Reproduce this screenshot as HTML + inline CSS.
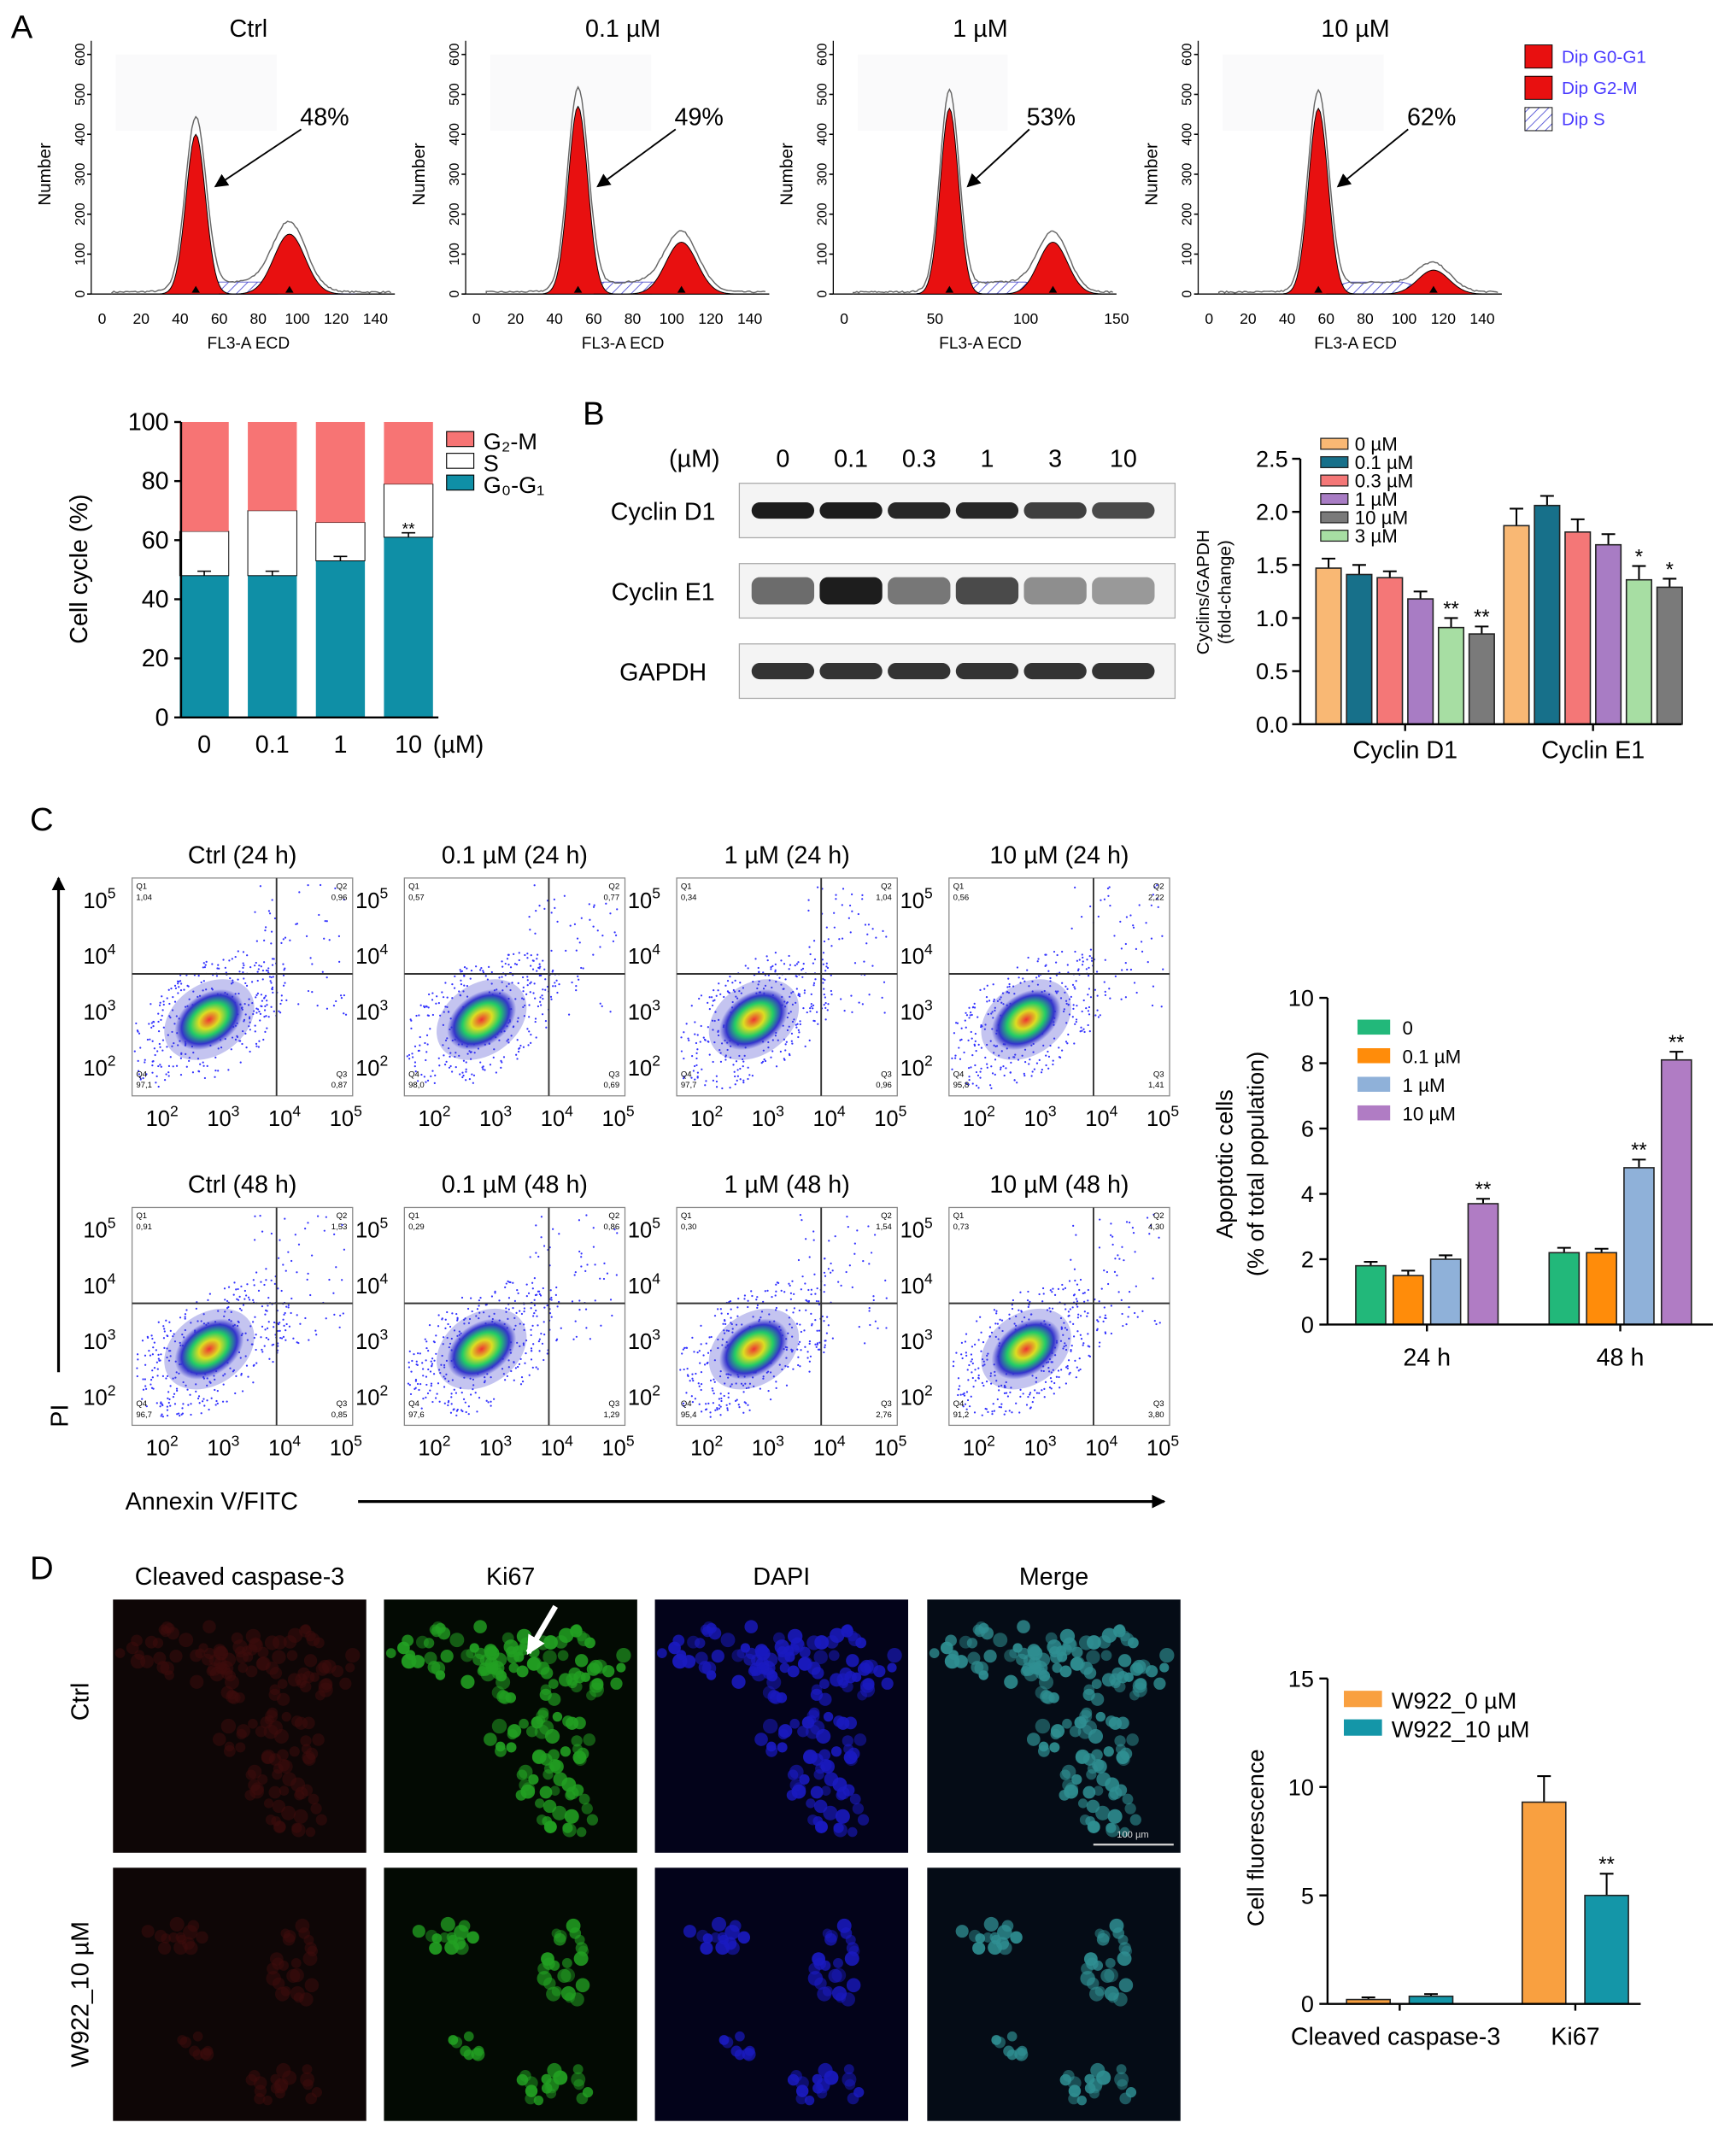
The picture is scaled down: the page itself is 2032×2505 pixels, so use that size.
<!DOCTYPE html>
<html><head><meta charset="utf-8">
<style>
html,body{margin:0;padding:0;background:#fff;}
svg{display:block;font-family:"Liberation Sans",Arial,sans-serif;}
</style></head>
<body>
<svg id="fig" width="2032" height="2505" viewBox="0 0 1275 1572" preserveAspectRatio="none" xmlns="http://www.w3.org/2000/svg">
<defs>
<pattern id="hatch" width="5" height="5" patternUnits="userSpaceOnUse" patternTransform="rotate(45)"><rect width="5" height="5" fill="#fff"/><line x1="0" y1="0" x2="0" y2="5" stroke="#5a5ad8" stroke-width="1.2"/></pattern>
<radialGradient id="blob"><stop offset="0" stop-color="#e33"/><stop offset="0.3" stop-color="#dd2"/><stop offset="0.55" stop-color="#2c6"/><stop offset="0.8" stop-color="#33c"/><stop offset="1" stop-color="#33c" stop-opacity="0"/></radialGradient>
<marker id="arr" markerWidth="10" markerHeight="10" refX="9" refY="5" orient="auto" markerUnits="userSpaceOnUse"><path d="M0,0 L10,5 L0,10 z" fill="#000"/></marker>
<marker id="arrw" markerWidth="14" markerHeight="14" refX="12" refY="7" orient="auto" markerUnits="userSpaceOnUse"><path d="M0,0 L14,7 L0,14 z" fill="#fff"/></marker>
</defs>
<g id="root"></g>
</svg>
<script>
// ---------- data ----------
const histTitles = ["Ctrl","0.1 µM","1 µM","10 µM"];
const histPct = ["48%","49%","53%","62%"];
const histG1Peak = [400,470,465,465];
const histG2Peak = [150,130,130,60];
const histG1Pos = [48,52,58,56];
const histG2Pos = [96,105,115,115];
const stackCats = ["0","0.1","1","10"];
const stackG1 = [48,48,53,61];
const stackS = [15,22,13,18];
const stackG2 = [37,30,34,21];
const stackTicks = [0,20,40,60,80,100];
const blotConc = ["0","0.1","0.3","1","3","10"];
const blotRows = ["Cyclin D1","Cyclin E1","GAPDH"];
const cycGroups = ["Cyclin D1","Cyclin E1"];
const cycLegend = ["0 µM","0.1 µM","0.3 µM","1 µM","10 µM","3 µM"];
const cycD1 = [1.47,1.41,1.38,1.18,0.91,0.85];
const cycE1 = [1.87,2.06,1.81,1.69,1.36,1.29];
const cycErrD1 = [0.09,0.09,0.06,0.07,0.09,0.07];
const cycErrE1 = [0.16,0.09,0.12,0.10,0.13,0.08];
const cycStarsD1 = ["","","","","**","**"];
const cycStarsE1 = ["","","","","*","*"];
const cycTicks = [0,0.5,1.0,1.5,2.0,2.5];
const apoGroups = ["24 h","48 h"];
const apoLegend = ["0","0.1 µM","1 µM","10 µM"];
const apo24 = [1.8,1.5,2.0,3.7];
const apo48 = [2.2,2.2,4.8,8.1];
const apoErr24 = [0.12,0.15,0.12,0.15];
const apoErr48 = [0.15,0.12,0.25,0.25];
const apoStars24 = ["","","","**"];
const apoStars48 = ["","","**","**"];
const apoTicks = [0,2,4,6,8,10];
const scatTitles = ["Ctrl (24 h)","0.1 µM (24 h)","1 µM (24 h)","10 µM (24 h)","Ctrl (48 h)","0.1 µM (48 h)","1 µM (48 h)","10 µM (48 h)"];
const scatQ1 = ["1,04","0,57","0,34","0,56","0,91","0,29","0,30","0,73"];
const scatQ2 = ["0,96","0,77","1,04","2,22","1,53","0,86","1,54","4,30"];
const scatQ3 = ["0,87","0,69","0,96","1,41","0,85","1,29","2,76","3,80"];
const scatQ4 = ["97,1","98,0","97,7","95,8","96,7","97,6","95,4","91,2"];
const fluoGroups = ["Cleaved caspase-3","Ki67"];
const fluoLegend = ["W922_0 µM","W922_10 µM"];
const fluo0 = [0.2,9.3];
const fluo10 = [0.35,5.0];
const fluoErr0 = [0.1,1.2];
const fluoErr10 = [0.1,1.0];
const fluoStars10 = ["","**"];
const fluoTicks = [0,5,10,15];

const NS="http://www.w3.org/2000/svg";
const root=document.getElementById('root');
function mk(tag,attrs,parent,text){const e=document.createElementNS(NS,tag);for(const k in attrs)e.setAttribute(k,attrs[k]);if(text!==undefined)e.textContent=text;(parent||root).appendChild(e);return e;}
function txt(x,y,s,size,anchor,parent,extra){const a=Object.assign({x:x,y:y,'font-size':size,'text-anchor':anchor||'middle',fill:'#000'},extra||{});return mk('text',a,parent,s);}
let seed=7;function rnd(){seed=(seed*16807)%2147483647;return seed/2147483647;}

// panel letters
["A","B","C","D"].forEach((L,i)=>{const p=[[8,28],[428,312],[22,610],[22,1160]][i];
 const t=txt(p[0],p[1],L,24,'start');
 
 });

// ---------- A histograms ----------
const histX=[75,350,620,888], histW=[215,215,200,215];
histTitles.forEach((title,i)=>{
 const g=mk('g',{});
 
 
 const x0=histX[i],w=histW[i],yb=216,h=176;
 const xs=v=>x0+v/150*w, ys=v=>yb-v/600*h;
 txt(x0+w/2,27,title,18,'middle',g);
 mk('rect',{x:x0+10,y:40,width:w*0.55,height:56,fill:'#fafafb'},g);
 mk('line',{x1:x0-8,y1:yb,x2:x0+w,y2:yb,stroke:'#000','stroke-width':0.8},g);
 mk('line',{x1:x0-8,y1:yb,x2:x0-8,y2:30,stroke:'#000','stroke-width':0.8},g);
 [0,100,200,300,400,500,600].forEach(t=>{const ty=ys(t);mk('line',{x1:x0-11,y1:ty,x2:x0-8,y2:ty,stroke:'#000'},g);
  const tt=txt(x0-16,ty,String(t),10,'middle',g);tt.setAttribute('transform','rotate(-90 '+(x0-16)+' '+ty+')');tt.setAttribute('dy','3');});
 const xt=i==2?[0,50,100,150]:[0,20,40,60,80,100,120,140];
 xt.forEach(t=>{txt(xs(t),238,String(t),11,'middle',g);});
 txt(x0+w/2,256,'FL3-A ECD',12,'middle',g);
 const yl=txt(x0-38,yb-88,'Number',13,'middle',g);yl.setAttribute('transform','rotate(-90 '+(x0-38)+' '+(yb-88)+')');
 const gp=(v,c,s,a)=>a*Math.exp(-((v-c)*(v-c))/(2*s*s));
 let p1='M'+xs(20)+','+yb,p2='M'+xs(60)+','+yb,pS='M'+xs(40)+','+yb,pe='M'+xs(5)+','+yb;
 for(let v=20;v<=90;v+=1)p1+=' L'+xs(v)+','+ys(gp(v,histG1Pos[i],5,histG1Peak[i]));
 for(let v=60;v<=145;v+=1)p2+=' L'+xs(v)+','+ys(gp(v,histG2Pos[i],8,histG2Peak[i]));
 for(let v=40;v<=130;v+=1)pS+=' L'+xs(v)+','+ys(Math.min(30,40*Math.exp(-Math.pow((v-(histG1Pos[i]+histG2Pos[i])/2)/25,2))));
 for(let v=5;v<=148;v+=1)pe+=' L'+xs(v)+','+ys(gp(v,histG1Pos[i],5.3,histG1Peak[i]*1.07)+gp(v,histG2Pos[i],8.5,histG2Peak[i]*1.1)+25*Math.exp(-Math.pow((v-(histG1Pos[i]+histG2Pos[i])/2)/28,2))+3+4*rnd());
 mk('path',{d:pS+' Z',fill:'url(#hatch)',stroke:'#55c','stroke-width':0.6},g);
 mk('path',{d:p1+' Z',fill:'#e81010',stroke:'#000','stroke-width':0.6},g);
 mk('path',{d:p2+' Z',fill:'#e81010',stroke:'#000','stroke-width':0.6},g);
 mk('path',{d:pe,fill:'none',stroke:'#666','stroke-width':0.9},g);
 [histG1Pos[i],histG2Pos[i]].forEach(v=>mk('path',{d:'M'+(xs(v)-3)+','+(yb-1)+' l3,-5 l3,5z',fill:'#000'},g));
 txt(x0+w*0.76,92,histPct[i],18,'middle',g);
 mk('line',{x1:x0+w*0.68,y1:95,x2:xs(histG1Pos[i]+10),y2:137,stroke:'#000','stroke-width':1.2,'marker-end':'url(#arr)'},g);
});
const hl=mk('g',{});


[["Dip G0-G1","#e81010"],["Dip G2-M","#e81010"],["Dip S","url(#hatch)"]].forEach((d,k)=>{
 mk('rect',{x:1120,y:33+k*23,width:20,height:17,fill:d[1],stroke:'#000','stroke-width':0.6},hl);
 txt(1147,46+k*23,d[0],13,'start',hl,{fill:'#4a3aff'});});

// ---------- A stacked bar ----------
{const g=mk('g',{});
 
 
 const x0=133,y0=527,yh=217,ys=v=>y0-v/100*yh;
 stackCats.forEach((c,i)=>{const cx=150+i*50,bw=36;
  const r1=mk('rect',{x:cx-bw/2,y:ys(stackG1[i]),width:bw,height:y0-ys(stackG1[i]),fill:'#0f8fa6'},g);
  
  
  const b2=stackG1[i]+stackS[i];
  const r2=mk('rect',{x:cx-bw/2,y:ys(b2),width:bw,height:ys(stackG1[i])-ys(b2),fill:'#fff',stroke:'#000','stroke-width':0.6},g);
  
  
  const b3=b2+stackG2[i];
  const r3=mk('rect',{x:cx-bw/2,y:ys(b3),width:bw,height:ys(b2)-ys(b3),fill:'#f77474'},g);
  
  
  mk('line',{x1:cx,y1:ys(stackG1[i]),x2:cx,y2:ys(stackG1[i]+1.5),stroke:'#000'},g);
  mk('line',{x1:cx-5,y1:ys(stackG1[i]+1.5),x2:cx+5,y2:ys(stackG1[i]+1.5),stroke:'#000'},g);
  txt(cx,553,c,18,'middle',g);
 });
 txt(300,ys(62),'**',12,'middle',g);
 txt(318,553,'(µM)',18,'start',g);
 mk('line',{x1:x0,y1:y0,x2:x0,y2:ys(100),stroke:'#000','stroke-width':1.5},g);
 mk('line',{x1:x0,y1:y0,x2:322,y2:y0,stroke:'#000','stroke-width':1.5},g);
 stackTicks.forEach(t=>{mk('line',{x1:x0-5,y1:ys(t),x2:x0,y2:ys(t),stroke:'#000','stroke-width':1.5},g);txt(x0-9,ys(t)+6,String(t),18,'end',g);});
 const yl=txt(64,418,'Cell cycle (%)',18,'middle',g);yl.setAttribute('transform','rotate(-90 64 418)');
 [["#f77474","G₂-M"],["#fff","S"],["#0f8fa6","G₀-G₁"]].forEach((d,k)=>{mk('rect',{x:328,y:317+k*16,width:20,height:11,fill:d[0],stroke:'#000','stroke-width':0.7},g);txt(355,330+k*16,d[1],17,'start',g);});
}

// ---------- B blot ----------
{const g=mk('g',{});
 
 
 txt(510,343,'(µM)',18,'middle',g);
 blotConc.forEach((c,i)=>txt(575+i*50,343,c,18,'middle',g));
 const rowY=[375,434,493],int=[[.95,.95,.9,.9,.8,.75],[.6,.95,.55,.75,.45,.4],[.85,.85,.85,.85,.85,.85]];
 blotRows.forEach((r,k)=>{const y=rowY[k];
  mk('rect',{x:543,y:y-20,width:320,height:40,fill:'#f4f4f4',stroke:'#aaa','stroke-width':0.8},g);
  txt(487,y+7,r,18,'middle',g);
  blotConc.forEach((c,i)=>{mk('rect',{x:575+i*50-23,y:y-(k==1?10:6),width:46,height:k==1?20:12,rx:6,fill:'#111','fill-opacity':int[k][i]},g);});
 });
}

// ---------- generic bar chart ----------
function barChart(name,x0,y0,yTop,vmax,groupCenters,groups,seriesVals,seriesErr,seriesStars,colors,bw,gap){
 const g=mk('g',{});
 
 
 const ys=v=>y0-v/vmax*(y0-yTop);
 const n=seriesVals.length;
 groups.forEach((gr,gi)=>{
  const start=groupCenters[gi]-(n*bw+(n-1)*gap)/2;
  for(let s=0;s<n;s++){
   const v=seriesVals[s][gi],x=start+s*(bw+gap),e=seriesErr[s][gi];
   mk('line',{x1:x+bw/2,y1:ys(v),x2:x+bw/2,y2:ys(v+e),stroke:'#000','stroke-width':1.3},g);
   mk('line',{x1:x+bw/2-5,y1:ys(v+e),x2:x+bw/2+5,y2:ys(v+e),stroke:'#000','stroke-width':1.3},g);
   const r=mk('rect',{x:x,y:ys(v),width:bw,height:y0-ys(v),fill:colors[s],stroke:'#222','stroke-width':1},g);
   
   
   const st=seriesStars[s]?seriesStars[s][gi]:'';
   if(st)txt(x+bw/2,ys(v+e)-2,st,15,'middle',g);
  }
  mk('line',{x1:groupCenters[gi],y1:y0,x2:groupCenters[gi],y2:y0+5,stroke:'#000','stroke-width':1.5},g);
 });
 return {g,ys};
}

// B cyclin chart
{const vals=[],errs=[],stars=[];
 for(let s=0;s<6;s++){vals.push([cycD1[s],cycE1[s]]);errs.push([cycErrD1[s],cycErrE1[s]]);stars.push([cycStarsD1[s],cycStarsE1[s]]);}
 const barCols=["#f9b874","#17708a","#f47777","#a87cc4","#a7dea3","#7a7a7a"];
 const {g,ys}=barChart('cyclin-bar-chart',955,532,337,2.5,[1032,1170],cycGroups,vals,errs,stars,barCols,18.5,4);
 mk('line',{x1:955,y1:532,x2:955,y2:337,stroke:'#000','stroke-width':1.5},g);
 mk('line',{x1:955,y1:532,x2:1235,y2:532,stroke:'#000','stroke-width':1.5},g);
 cycTicks.forEach(t=>{mk('line',{x1:949,y1:ys(t),x2:955,y2:ys(t),stroke:'#000','stroke-width':1.5},g);txt(946,ys(t)+6,t.toFixed(1),17,'end',g);});
 cycGroups.forEach((c,i)=>txt([1032,1170][i],557,c,18,'middle',g));
 const yl=txt(888,435,'Cyclins/GAPDH',13,'middle',g);yl.setAttribute('transform','rotate(-90 888 435)');
 const yl2=txt(904,435,'(fold-change)',13,'middle',g);yl2.setAttribute('transform','rotate(-90 904 435)');
 const legCols=["#f9b874","#17708a","#f47777","#a87cc4","#7a7a7a","#a7dea3"];
 cycLegend.forEach((l,k)=>{mk('rect',{x:970,y:322+k*13.5,width:20,height:8,fill:legCols[k],stroke:'#222','stroke-width':0.8},g);txt(995,331+k*13.5,l,14,'start',g);});
}

// ---------- C scatter ----------
{const colX=[97,297,497,697],rowY=[645,887],W=162,H=160;
 scatTitles.forEach((t,i)=>{
  const g=mk('g',{});
  
  
  const x=colX[i%4],y=rowY[Math.floor(i/4)];
  txt(x+W/2,y-11,t,18,'middle',g);
  mk('rect',{x:x,y:y,width:W,height:H,fill:'#fff',stroke:'#888','stroke-width':0.8},g);
  const qx=x+W*0.655,qy=y+H*0.44;
  const cx=x+W*0.35,cy=y+H*0.65;
  for(let k=0;k<350;k++){const a=rnd()*6.283,rr=Math.pow(rnd(),0.6)*50;const px=cx+Math.cos(a)*rr*1.2,py=cy+Math.sin(a)*rr*0.9-(px-cx)*0.4;
   if(px>x+2&&px<x+W-2&&py>y+2&&py<y+H-2)mk('circle',{cx:px,cy:py,r:0.7,fill:'#33f'},g);}
  for(let k=0;k<60;k++){const px=x+W*0.55+rnd()*W*0.42,py=y+5+rnd()*H*0.6;mk('circle',{cx:px,cy:py,r:0.7,fill:'#33f'},g);}
  mk('ellipse',{cx:cx,cy:cy,rx:36,ry:26,fill:'#3a3acc','fill-opacity':0.3,transform:'rotate(-35 '+cx+' '+cy+')'},g);
  mk('ellipse',{cx:cx,cy:cy,rx:28,ry:19,fill:'url(#blob)',transform:'rotate(-35 '+cx+' '+cy+')'},g);
  mk('line',{x1:qx,y1:y,x2:qx,y2:y+H,stroke:'#333','stroke-width':1.2},g);
  mk('line',{x1:x,y1:qy,x2:x+W,y2:qy,stroke:'#333','stroke-width':1.2},g);
  txt(x+3,y+8,'Q1',6,'start',g);txt(x+3,y+16,scatQ1[i],6,'start',g);
  txt(x+W-4,y+8,'Q2',6,'end',g);txt(x+W-4,y+16,scatQ2[i],6,'end',g);
  txt(x+W-4,y+H-14,'Q3',6,'end',g);txt(x+W-4,y+H-6,scatQ3[i],6,'end',g);
  txt(x+3,y+H-14,'Q4',6,'start',g);txt(x+3,y+H-6,scatQ4[i],6,'start',g);
  ["2","3","4","5"].forEach((e,k)=>{const tx=x+22+k*45;const tt=txt(tx,y+H+22,'10',16,'middle',g);mk('tspan',{dy:-7,'font-size':11},tt,e);});
  ["5","4","3","2"].forEach((e,k)=>{const ty=y+22+k*41;const tt=txt(x-4,ty,'10',16,'end',g);tt.setAttribute('dx','-8');mk('tspan',{dy:-7,'font-size':11},tt,e);});
 });
 const a=mk('g',{});
 
 
 mk('line',{x1:43,y1:1008,x2:43,y2:645,stroke:'#000','stroke-width':2,'marker-end':'url(#arr)'},a);
 const pi=txt(50,1040,'PI',18,'middle',a);pi.setAttribute('transform','rotate(-90 50 1040)');
 txt(92,1109,'Annexin V/FITC',18,'start',a);
 mk('line',{x1:263,y1:1103,x2:855,y2:1103,stroke:'#000','stroke-width':2,'marker-end':'url(#arr)'},a);
}

// C apoptosis chart
{const cols=["#22b87a","#ff8c0a","#8fb1d9","#b07cc4"];
 const vals=apo24.map((v,i)=>[v,apo48[i]]),errs=apoErr24.map((v,i)=>[v,apoErr48[i]]),stars=apoStars24.map((v,i)=>[v,apoStars48[i]]);
 const {g,ys}=barChart('apoptosis-bar-chart',975,973,733,10,[1048,1190],apoGroups,vals,errs,stars,cols,22,5.5);
 mk('line',{x1:975,y1:973,x2:975,y2:733,stroke:'#000','stroke-width':1.5},g);
 mk('line',{x1:975,y1:973,x2:1258,y2:973,stroke:'#000','stroke-width':1.5},g);
 apoTicks.forEach(t=>{mk('line',{x1:969,y1:ys(t),x2:975,y2:ys(t),stroke:'#000','stroke-width':1.5},g);txt(965,ys(t)+6,String(t),17,'end',g);});
 apoGroups.forEach((c,i)=>txt([1048,1190][i],1003,c,18,'middle',g));
 const yl=txt(905,855,'Apoptotic cells',17,'middle',g);yl.setAttribute('transform','rotate(-90 905 855)');
 const yl2=txt(928,855,'(% of total population)',17,'middle',g);yl2.setAttribute('transform','rotate(-90 928 855)');
 apoLegend.forEach((l,k)=>{mk('rect',{x:997,y:749+k*21,width:24,height:11,fill:cols[k]},g);txt(1030,760+k*21,l,14,'start',g);});
}

// ---------- D images ----------
{const colX=[83,282,481,681],rowY=[1175,1372],titles=["Cleaved caspase-3","Ki67","DAPI","Merge"];
 const bg=["#0e0606","#030a03","#03031a","#050c16"],fg=["#3d0c0c","#22a022","#1a1ac0","#2f8f92"];
 titles.forEach((t,c)=>txt(colX[c]+93,1164,t,18,'middle'));
 const rl=txt(65,1250,'Ctrl',18,'middle');rl.setAttribute('transform','rotate(-90 65 1250)');
 const rl2=txt(65,1465,'W922_10 µM',18,'middle');rl2.setAttribute('transform','rotate(-90 65 1465)');
 const clustersAll=[
  [[55,40,50,22],[125,50,55,30],[115,115,40,35],[140,160,25,15]],
  [[45,55,22,18],[135,70,22,30],[125,160,28,18],[60,130,15,15]]];
 for(let r=0;r<2;r++){
  const cells=[];
  clustersAll[r].forEach(cl=>{for(let k=0;k<Math.round(cl[2]*cl[3]/28);k++){const a=rnd()*6.283,rr=Math.sqrt(rnd());cells.push([cl[0]+Math.cos(a)*rr*cl[2],cl[1]+Math.sin(a)*rr*cl[3],3.5+rnd()*2,rnd()]);}});
  for(let c=0;c<4;c++){
  const g=mk('g',{});
  
  
  const x=colX[c],y=rowY[r];
  mk('rect',{x:x,y:y,width:186,height:186,fill:bg[c]},g);
  cells.forEach(p=>{if(p[0]>2&&p[0]<184&&p[1]>2&&p[1]<184)mk('circle',{cx:x+p[0],cy:y+p[1],r:p[2],fill:fg[c],'fill-opacity':c==0?0.5:(0.45+0.5*p[3])},g);});
 }}
 mk('line',{x1:408,y1:1180,x2:388,y2:1214,stroke:'#fff','stroke-width':4,'marker-end':'url(#arrw)'});
 mk('line',{x1:803,y1:1355,x2:862,y2:1355,stroke:'#ccc','stroke-width':1.5});
 txt(832,1350,'100 µm',7,'middle',undefined,{fill:'#ddd'});
}

// D fluorescence chart
{const cols=["#f9a040","#1496a8"];
 const vals=[fluo0,fluo10],errs=[fluoErr0,fluoErr10],stars=[["",""],fluoStars10];
 const {g,ys}=barChart('fluorescence-bar-chart',975,1472,1233,15,[1028,1157],fluoGroups,vals,errs,stars,cols,32,14);
 mk('line',{x1:975,y1:1472,x2:975,y2:1233,stroke:'#000','stroke-width':1.5},g);
 mk('line',{x1:975,y1:1472,x2:1205,y2:1472,stroke:'#000','stroke-width':1.5},g);
 fluoTicks.forEach(t=>{mk('line',{x1:969,y1:ys(t),x2:975,y2:ys(t),stroke:'#000','stroke-width':1.5},g);txt(965,ys(t)+6,String(t),17,'end',g);});
 txt(1025,1502,'Cleaved caspase-3',18,'middle',g);txt(1157,1502,'Ki67',18,'middle',g);
 const yl=txt(928,1350,'Cell fluorescence',17,'middle',g);yl.setAttribute('transform','rotate(-90 928 1350)');
 fluoLegend.forEach((l,k)=>{mk('rect',{x:987,y:1242+k*21,width:28,height:12,fill:cols[k]},g);txt(1022,1255+k*21,l,17,'start',g);});
}
</script>
</body></html>
